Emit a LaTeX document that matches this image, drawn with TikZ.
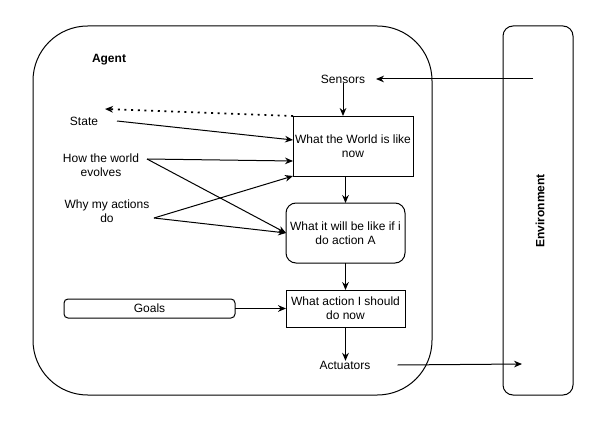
\documentclass[tikz,border=0pt]{standalone}
\usepackage{fontspec}
\setmainfont{Liberation Sans}
\usetikzlibrary{arrows.meta}

\begin{document}
\begin{tikzpicture}[x=0.75pt, y=-0.75pt, line width=0.75pt, outer sep=0, inner sep=0,
        >={Stealth[length=6pt, width=5pt]}, font=\fontsize{9}{10.5}\selectfont]
        \useasboundingbox (0,0) rectangle (596,435);
        % agent and environment
        \node [draw, rectangle, rounded corners=41pt, minimum width=299.25pt, minimum height=276.75pt] (agentbox) at (232.5,210.5) {};
        \node [draw, rectangle, rounded corners=7.5pt, minimum width=52.5pt, minimum height=276.75pt] (envbox) at (538,210.5) {};
        \node [font=\fontsize{9}{10.5}\selectfont\bfseries] (agent) at (109,60) {Agent};
        \node [font=\fontsize{9}{10.5}\selectfont\bfseries, rotate=90] (env) at (540,211) {Environment};
        % sensors and world
        \node [minimum width=49.5pt] (sensors) at (343,79) {Sensors};
        \coordinate (envout) at (533,79);
        \node [draw, rectangle, minimum width=90pt, minimum height=45pt, align=center] (world) at (353,146) {What the World is like\\now};
        \draw[->] (envout) -- (sensors);
        \draw[->] (sensors.south) -- (sensors.south |- world.north);
        % knowledge
        \node [minimum width=49.5pt] (state) at (84,121) {State};
        \node [minimum width=69pt, align=center] (evolves) at (101,165) {How the world\\evolves};
        \node [minimum width=70.5pt, align=center] (actions) at (107,211) {Why my actions\\do};
        \coordinate (statetip) at (105,109);
        \draw[->, dash pattern=on 1.5pt off 3.5pt, line width=1.2pt] (world.north west) -- (statetip);
        \draw[->] (state.east) -- ([yshift=4.5pt]world.west);
        % prediction
        \node [draw, rectangle, rounded corners=7.5pt, minimum width=89.25pt, minimum height=45pt, align=center] (predict) at (345.5,233) {What it will be like if i\\do action A};
        \draw[->] (predict.north |- world.south) -- (predict.north);
        \draw[->] ([yshift=4.5pt]evolves.east) -- ([yshift=-11.25pt]world.west);
        \draw[->] ([yshift=4.5pt]evolves.east) -- (predict.west);
        \draw[->] ([yshift=-5.25pt]actions.east) -- (world.south west);
        \draw[->] ([yshift=-5.25pt]actions.east) -- (predict.west);
        % decision
        \node [draw, rectangle, minimum width=89.25pt, minimum height=27.75pt, align=center] (decide) at (345.5,308.5) {What action I should\\do now};
        \node [draw, rectangle, rounded corners=3pt, minimum width=128.25pt, minimum height=14.25pt] (goals) at (149.5,308.5) {Goals};
        \draw[->] (predict) -- (decide);
        \draw[->] (goals) -- (decide);
        % actuators
        \node [minimum width=78.75pt] (actuators) at (345,365) {Actuators};
        \coordinate (envin) at (522,364);
        \draw[->] (decide.south) -- (decide.south |- actuators.north);
        \draw[->] (actuators.east) -- (envin);
    \end{tikzpicture}
\end{document}
